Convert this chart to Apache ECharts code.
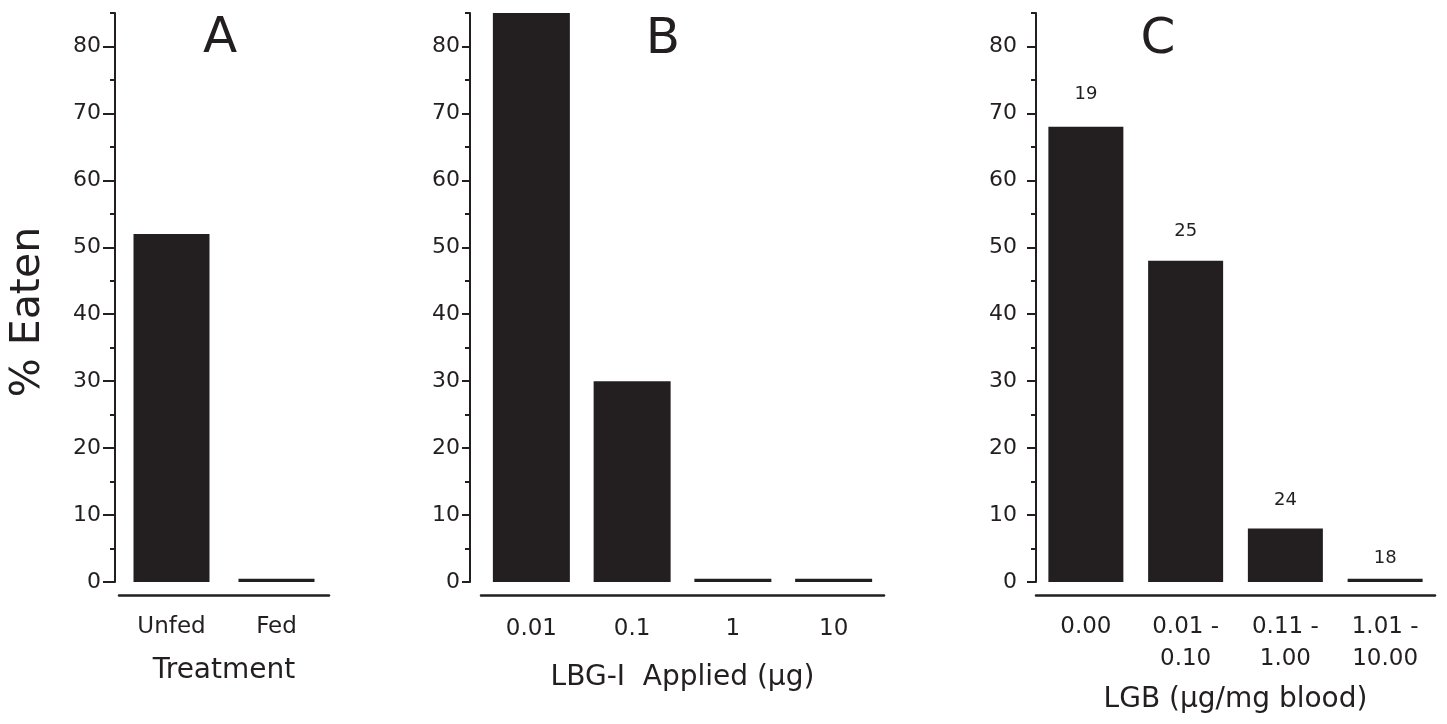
<!DOCTYPE html>
<html><head><meta charset="utf-8">
<script src="https://cdn.jsdelivr.net/npm/echarts@6/dist/echarts.min.js"></script>
<style>html,body{margin:0;padding:0;background:#fff}#c{width:1447px;height:724px}</style>
</head><body><div id="c"></div>
<script>
// ---- data ----
const catsA = ['Unfed', 'Fed'];
const valsA = [52, 0.5];
const catsB = ['0.01', '0.1', '1', '10'];
const valsB = [85, 30, 0.5, 0.5];
const catsC = ['0.00', '0.01 -\n0.10', '0.11 -\n1.00', '1.01 -\n10.00'];
const valsC = [68, 48, 8, 0.5];
const nC = ['19', '25', '24', '18'];
const yMajor = [0, 10, 20, 30, 40, 50, 60, 70, 80];
const yMin = 0, yMax = 85, yMinorStep = 5;
const panelLetters = ['A', 'B', 'C'];
const xNames = ['Treatment', 'LBG-I  Applied (\u03bcg)', 'LGB (\u03bcg/mg blood)'];
const yName = '% Eaten';

// ---- style ----
const INK = '#231f20';
const FONT = 'DejaVu Sans';
const grids = [
  {left: 119, right: 1447 - 329, top: 13, bottom: 142},
  {left: 481, right: 1447 - 884, top: 13, bottom: 142},
  {left: 1036, right: 1447 - 1435, top: 13, bottom: 142}
];
const yOff = [4, 11, 0];
const tickLen = [12, 8, 9];
const lblMargin = [14, 10, 19];
const xNameGap = [62, 69, 91];
const xLblMargin = [18, 20, 16];
const barW = [76, 77, 75];
const labelGapC = [23, 20, 19, 11];
const letterPos = [[220, 39], [663, 40], [1158, 40]];
const yNamePos = [28, 312];

const chart = echarts.init(document.getElementById('c'));
const cats = [catsA, catsB, catsC];
const vals = [valsA, valsB, valsC];

const xAxis = [], yAxis = [], series = [];
for (let i = 0; i < 3; i++) {
  xAxis.push({
    gridIndex: i, type: 'category', data: cats[i], offset: 13,
    axisLine: {onZero: false, lineStyle: {color: INK, width: 2.5}},
    axisTick: {show: false},
    axisLabel: {color: INK, fontFamily: FONT, fontSize: 23, margin: xLblMargin[i], lineHeight: i === 2 ? 32 : 28, interval: 0},
    name: xNames[i], nameLocation: 'middle', nameGap: xNameGap[i],
    nameTextStyle: {color: INK, fontFamily: FONT, fontSize: 28}
  });
  yAxis.push({
    gridIndex: i, type: 'value', min: yMin, max: yMax, offset: yOff[i],
    axisLine: {show: true, lineStyle: {color: INK, width: 2}},
    axisTick: {show: true, length: tickLen[i], customValues: yMajor, lineStyle: {color: INK, width: 2}},
    axisLabel: {customValues: yMajor, margin: lblMargin[i], color: INK, fontFamily: FONT, fontSize: 22},
    splitLine: {show: false}
  });
  yAxis.push({
    gridIndex: i, type: 'value', min: yMin, max: yMax, interval: yMinorStep, offset: yOff[i], position: 'left',
    axisLine: {show: false},
    axisTick: {show: true, length: 5, lineStyle: {color: INK, width: 2}},
    axisLabel: {show: false},
    splitLine: {show: false}
  });
  const s = {
    type: 'bar', xAxisIndex: i, yAxisIndex: i * 2, barWidth: barW[i], clip: true,
    itemStyle: {color: INK},
    data: vals[i].slice()
  };
  if (i === 2) {
    s.data = valsC.map((v, k) => ({
      value: v,
      label: {show: true, position: 'top', distance: labelGapC[k], formatter: nC[k],
        color: INK, fontFamily: FONT, fontSize: 18}
    }));
  }
  series.push(s);
}

const graphic = panelLetters.map((t, i) => ({
  type: 'text', x: letterPos[i][0], y: letterPos[i][1],
  style: {text: t, fill: INK, font: '50px "' + FONT + '"', textAlign: 'center', textVerticalAlign: 'middle'}
}));
graphic.push({
  type: 'text', x: yNamePos[0], y: yNamePos[1], rotation: Math.PI / 2,
  style: {text: yName, fill: INK, font: '41px "' + FONT + '"', textAlign: 'center', textVerticalAlign: 'middle'}
});

chart.setOption({
  animation: false,
  backgroundColor: '#fff',
  grid: grids,
  xAxis, yAxis, series, graphic
});
</script>
</body></html>
